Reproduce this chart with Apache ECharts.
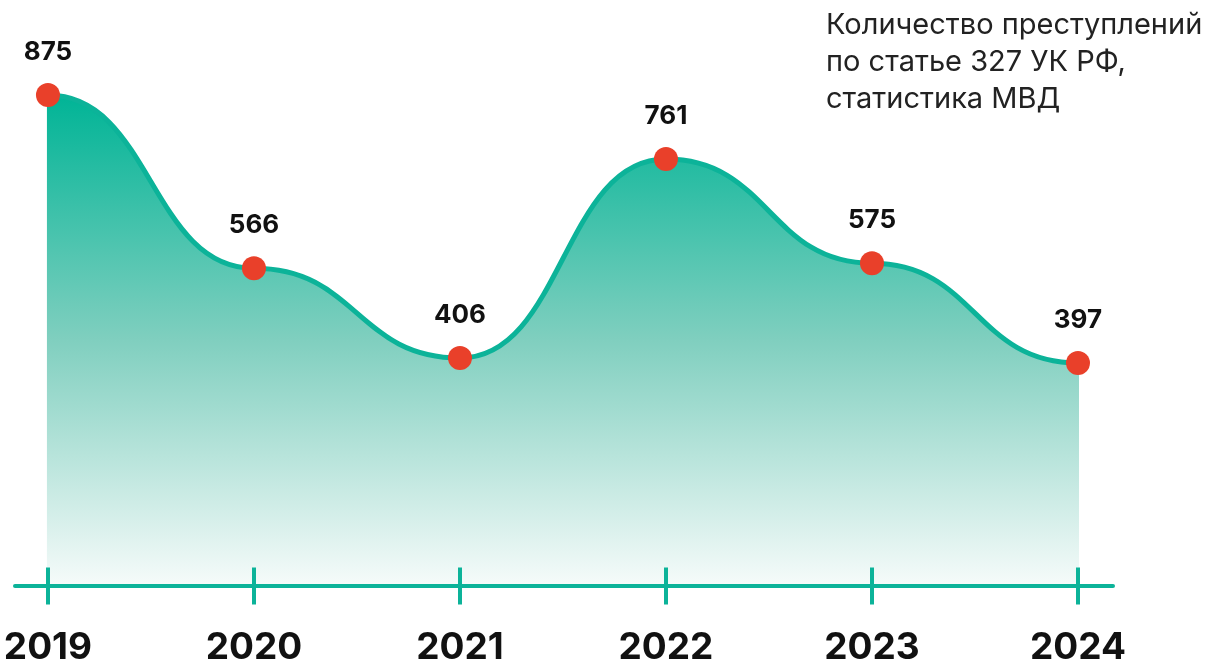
<!DOCTYPE html>
<html>
<head>
<meta charset="utf-8">
<script src="https://cdn.jsdelivr.net/npm/echarts@6/dist/echarts.min.js"></script>
<style>html,body{margin:0;padding:0;background:#fff}#c{width:1210px;height:668px}</style>
</head>
<body>
<div id="c"></div>
<script>
const years = ['2019', '2020', '2021', '2022', '2023', '2024'];
const crimes = [875, 566, 406, 761, 575, 397];
const titleText = 'Количество преступлений\nпо статье 327 УК РФ,\nстатистика МВД';

const teal = '#0cb399';
const tickIdx = years.map((_, i) => i);
// real points, plus hidden guide points hugging each end so the curve leaves/arrives flat
const pts = crimes.map((v, i) => [i, v]);
const hidden = { symbol: 'none', label: { show: false } };
const lineData = [
  Object.assign({ value: [-0.005, crimes[0]] }, hidden),
  ...pts,
  Object.assign({ value: [crimes.length - 1 + 0.005, crimes[crimes.length - 1]] }, hidden)
];

const chart = echarts.init(document.getElementById('c'));
chart.setOption({
  animation: false,
  title: {
    text: titleText,
    left: 821, top: 2,
    textStyle: { fontFamily: 'Inter', fontSize: 29, fontWeight: 'normal', color: '#222', lineHeight: 37 }
  },
  grid: { left: 15, right: 97, top: 25, bottom: 82.4 },
  xAxis: [{
    type: 'value', min: -0.16, max: 5.17, z: 10,
    splitLine: { show: false },
    axisLine: { show: true, onZero: false, lineStyle: { color: teal, width: 4 } },
    axisTick: { show: true, customValues: tickIdx, length: 19, lineStyle: { color: teal, width: 4 } },
    axisLabel: {
      customValues: tickIdx, margin: 44,
      formatter: v => years[Math.round(v)],
      fontFamily: 'Inter', fontSize: 37, fontWeight: 'bold', color: '#111'
    }
  }, {
    type: 'value', min: -0.16, max: 5.17, position: 'bottom', offset: 0, z: 10,
    splitLine: { show: false },
    axisLine: { show: false },
    axisTick: { show: true, inside: true, customValues: tickIdx, length: 18, lineStyle: { color: teal, width: 4 } },
    axisLabel: { show: false }
  }],
  yAxis: { type: 'value', min: 0, max: 1000, show: false, splitLine: { show: false } },
  series: [{
    type: 'line',
    data: lineData,
    smooth: 0.5,
    smoothMonotone: 'x',
    symbol: 'circle', symbolSize: 24,
    itemStyle: { color: '#e9402a' },
    lineStyle: { color: teal, width: 5 },
    areaStyle: {
      opacity: 1,
      color: new echarts.graphic.LinearGradient(0, 0, 0, 1, [
        { offset: 0, color: '#00b496' },
        { offset: 0.5, color: '#80cfbf' },
        { offset: 1, color: '#f6fbfa' }
      ])
    },
    label: {
      show: true, position: 'top', distance: 18,
      fontFamily: 'Inter', fontSize: 26, fontWeight: 'bold', color: '#111',
      formatter: p => p.value[1]
    },
    z: 3
  }]
});
</script>
</body>
</html>
